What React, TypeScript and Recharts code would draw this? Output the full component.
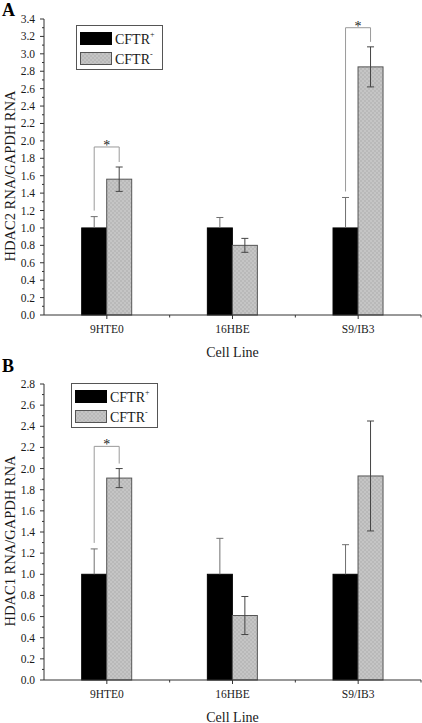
import React from 'react';
import { BarChart, Bar, XAxis, YAxis, Legend, Label } from 'recharts';

const categories = ['9HTE0', '16HBE', 'S9/IB3'];

// Panel A: HDAC2
const hdac2Pos = [1.0, 1.0, 1.0];
const hdac2PosErr = [0.13, 0.12, 0.35];
const hdac2Neg = [1.56, 0.8, 2.85];
const hdac2NegErr = [0.14, 0.08, 0.23];
const hdac2Sig: (number | null)[] = [1.93, null, 3.3];
const hdac2Ticks = [
  0, 0.1, 0.2, 0.3, 0.4, 0.5, 0.6, 0.7, 0.8, 0.9, 1.0, 1.1, 1.2, 1.3, 1.4, 1.5, 1.6, 1.7,
  1.8, 1.9, 2.0, 2.1, 2.2, 2.3, 2.4, 2.5, 2.6, 2.7, 2.8, 2.9, 3.0, 3.1, 3.2, 3.3, 3.4,
];

// Panel B: HDAC1
const hdac1Pos = [1.0, 1.0, 1.0];
const hdac1PosErr = [0.24, 0.34, 0.28];
const hdac1Neg = [1.91, 0.61, 1.93];
const hdac1NegErr = [0.09, 0.18, 0.52];
const hdac1Sig: (number | null)[] = [2.21, null, null];
const hdac1Ticks = [
  0, 0.1, 0.2, 0.3, 0.4, 0.5, 0.6, 0.7, 0.8, 0.9, 1.0, 1.1, 1.2, 1.3, 1.4, 1.5, 1.6, 1.7,
  1.8, 1.9, 2.0, 2.1, 2.2, 2.3, 2.4, 2.5, 2.6, 2.7, 2.8,
];

const FONT = '"Liberation Serif", "Times New Roman", Times, serif';
const TEXT = '#1a1a1a';
const AXIS = '#333';
const W = 422;
const H = 360;
const MARGIN = { top: 19, right: 1, left: 0, bottom: 0 };
const Y_W = 44;
const X_H = 45;
const PLOT_LEFT = MARGIN.left + Y_W;
const PLOT_BOTTOM = H - X_H - MARGIN.bottom;
const PLOT_W = W - MARGIN.right - PLOT_LEFT;
const BAND = PLOT_W / categories.length;

function buildRows(
  pos: number[],
  posErr: number[],
  neg: number[],
  negErr: number[],
  sig: (number | null)[]
) {
  return categories.map((cat, i) => ({
    cat,
    pos: pos[i],
    posErr: posErr[i],
    neg: neg[i],
    negErr: negErr[i],
    sig: sig[i],
  }));
}

const rowsA = buildRows(hdac2Pos, hdac2PosErr, hdac2Neg, hdac2NegErr, hdac2Sig);
const rowsB = buildRows(hdac1Pos, hdac1PosErr, hdac1Neg, hdac1NegErr, hdac1Sig);

const PosShape = (p: any) => {
  const { x, y, width, height, payload } = p;
  const base = y + height;
  const ppu = height / payload.pos;
  const cx = x + width / 2;
  const top = base - (payload.pos + payload.posErr) * ppu;
  return (
    <g>
      <rect x={x} y={y} width={width} height={height} fill="#000" stroke="#000" strokeWidth={1} />
      <line x1={cx} x2={cx} y1={y} y2={top} stroke="#707070" strokeWidth={1} />
      <line x1={cx - 3.5} x2={cx + 3.5} y1={top} y2={top} stroke="#707070" strokeWidth={1} />
    </g>
  );
};

const makeNegShape = (pid: string) => (p: any) => {
  const { x, y, width, height, payload } = p;
  const base = y + height;
  const ppu = height / payload.neg;
  const cx = x + width / 2;
  const eTop = base - (payload.neg + payload.negErr) * ppu;
  const eBot = base - (payload.neg - payload.negErr) * ppu;
  let bracket = null;
  if (payload.sig != null) {
    const lx = x - width / 2;
    const rx = cx;
    const by = base - payload.sig * ppu;
    const lBottom = base - (payload.pos + payload.posErr) * ppu - 6;
    const rBottom = eTop - 5;
    bracket = (
      <g>
        <polyline
          points={`${lx},${lBottom} ${lx},${by} ${rx},${by} ${rx},${rBottom}`}
          fill="none"
          stroke="#9a9a9a"
          strokeWidth={1}
        />
        <text
          x={(lx + rx) / 2}
          y={by + 3}
          textAnchor="middle"
          fontSize={14}
          fontFamily={FONT}
          fill="#222"
        >
          *
        </text>
      </g>
    );
  }
  return (
    <g>
      <rect x={x} y={y} width={width} height={height} fill={`url(#${pid})`} stroke="#555" strokeWidth={1} />
      <line x1={cx} x2={cx} y1={eBot} y2={eTop} stroke="#444" strokeWidth={1} />
      <line x1={cx - 3.5} x2={cx + 3.5} y1={eTop} y2={eTop} stroke="#444" strokeWidth={1} />
      <line x1={cx - 3.5} x2={cx + 3.5} y1={eBot} y2={eBot} stroke="#444" strokeWidth={1} />
      {bracket}
    </g>
  );
};

const YTick = (p: any) => {
  const { y, payload } = p;
  const v = payload.value as number;
  const major = Math.round(v * 10) % 2 === 0;
  const ax = PLOT_LEFT;
  return (
    <g>
      <line x1={ax - (major ? 4 : 2)} x2={ax} y1={y} y2={y} stroke={AXIS} strokeWidth={1} />
      {major && (
        <text
          x={ax - 9}
          y={y}
          dy="0.35em"
          textAnchor="end"
          fontSize={11.5}
          fontFamily={FONT}
          fill={TEXT}
        >
          {v.toFixed(1)}
        </text>
      )}
    </g>
  );
};

const XTick = (p: any) => {
  const { x, payload } = p;
  const ay = PLOT_BOTTOM;
  return (
    <g>
      <line x1={x} x2={x} y1={ay} y2={ay + 4} stroke={AXIS} strokeWidth={1} />
      <line x1={x + BAND / 2} x2={x + BAND / 2} y1={ay} y2={ay + 2.5} stroke={AXIS} strokeWidth={1} />
      <text x={x} y={ay + 18} textAnchor="middle" fontSize={11.5} fontFamily={FONT} fill={TEXT}>
        {payload.value}
      </text>
    </g>
  );
};

const XTitle = (p: any) => {
  const vb = p.viewBox || { x: PLOT_LEFT, y: PLOT_BOTTOM, width: PLOT_W, height: X_H };
  return (
    <text
      x={vb.x + vb.width / 2}
      y={PLOT_BOTTOM + 41.5}
      textAnchor="middle"
      fontSize={14}
      fontFamily={FONT}
      fill={TEXT}
    >
      Cell Line
    </text>
  );
};

const makeYTitle = (label: string) => (p: any) => {
  const cy = MARGIN.top + (PLOT_BOTTOM - MARGIN.top) / 2 + 9;
  return (
    <text
      x={15}
      y={cy}
      transform={`rotate(-90 15 ${cy})`}
      textAnchor="middle"
      fontSize={14.5}
      fontFamily={FONT}
      fill={TEXT}
    >
      {label}
    </text>
  );
};

const LegendBox = ({ pid, payload }: { pid: string; payload?: any[] }) => {
  const items = payload && payload.length ? payload : [{ value: 'CFTR+' }, { value: 'CFTR-' }];
  return (
    <svg width={87} height={45} style={{ display: 'block' }}>
      <rect x={0.5} y={0.5} width={86} height={44} fill="#fff" stroke="#555" strokeWidth={1} />
      {items.map((it: any, i: number) => {
        const sup = String(it.value).slice(-1);
        return (
          <g key={i}>
            <rect
              x={4.5}
              y={7.5 + i * 20}
              width={31}
              height={12}
              fill={i === 0 ? '#000' : `url(#${pid})`}
              stroke={i === 0 ? '#000' : '#555'}
              strokeWidth={1}
            />
            <text x={39} y={18.5 + i * 20.5} fontSize={14} fontFamily={FONT} fill={TEXT}>
              CFTR
              <tspan dy={-7} fontSize={8}>
                {sup === '-' ? '-' : '+'}
              </tspan>
            </text>
          </g>
        );
      })}
    </svg>
  );
};

function Panel({
  rows,
  ticks,
  max,
  yTitle,
  pid,
  legendLeft,
  legendTop,
}: {
  rows: any[];
  ticks: number[];
  max: number;
  yTitle: string;
  pid: string;
  legendLeft: number;
  legendTop: number;
}) {
  return (
    <BarChart width={W} height={H} data={rows} margin={MARGIN} barCategoryGap="30%" barGap={0}>
      <defs>
        <pattern id={pid} width={4} height={4} patternUnits="userSpaceOnUse">
          <rect width={4} height={4} fill="#c5c5c5" />
          <rect width={2} height={2} fill="#b9b9b9" />
          <rect x={2} y={2} width={2} height={2} fill="#b9b9b9" />
        </pattern>
      </defs>
      <XAxis
        dataKey="cat"
        height={X_H}
        interval={0}
        axisLine={{ stroke: AXIS, strokeWidth: 1 }}
        tickLine={false}
        tick={XTick}
      >
        <Label content={XTitle} />
      </XAxis>
      <YAxis
        type="number"
        width={Y_W}
        domain={[0, max]}
        ticks={ticks}
        interval={0}
        axisLine={{ stroke: AXIS, strokeWidth: 1 }}
        tickLine={false}
        tickSize={4}
        tickMargin={5}
        tick={YTick}
      >
        <Label content={makeYTitle(yTitle)} />
      </YAxis>
      <Legend
        layout="vertical"
        align="center"
        verticalAlign="middle"
        wrapperStyle={{ left: legendLeft, top: legendTop, width: 87, height: 45 }}
        content={(lp: any) => <LegendBox pid={pid} payload={lp.payload} />}
      />
      <Bar dataKey="pos" name="CFTR+" fill="#000" shape={PosShape} isAnimationActive={false} />
      <Bar dataKey="neg" name="CFTR-" fill="#bfbfbf" shape={makeNegShape(pid)} isAnimationActive={false} />
    </BarChart>
  );
}

export default function App() {
  return (
    <div
      style={{
        position: 'absolute',
        left: 0,
        top: 0,
        width: 422,
        height: 723,
        overflow: 'hidden',
        background: '#fff',
        fontFamily: FONT,
      }}
    >
      <div style={{ position: 'absolute', left: 0, top: 0 }}>
        <Panel
          rows={rowsA}
          ticks={hdac2Ticks}
          max={3.4}
          yTitle="HDAC2 RNA/GAPDH RNA"
          pid="greyPatA"
          legendLeft={76}
          legendTop={25}
        />
      </div>
      <div style={{ position: 'absolute', left: 0, top: 365 }}>
        <Panel
          rows={rowsB}
          ticks={hdac1Ticks}
          max={2.8}
          yTitle="HDAC1 RNA/GAPDH RNA"
          pid="greyPatB"
          legendLeft={71}
          legendTop={18}
        />
      </div>
      <svg
        width={422}
        height={723}
        style={{ position: 'absolute', left: 0, top: 0, pointerEvents: 'none' }}
      >
        <text x={2} y={15.5} fontSize={18} fontWeight="bold" fontFamily={FONT} fill="#000">
          A
        </text>
        <text x={2} y={372} fontSize={18} fontWeight="bold" fontFamily={FONT} fill="#000">
          B
        </text>
      </svg>
    </div>
  );
}
